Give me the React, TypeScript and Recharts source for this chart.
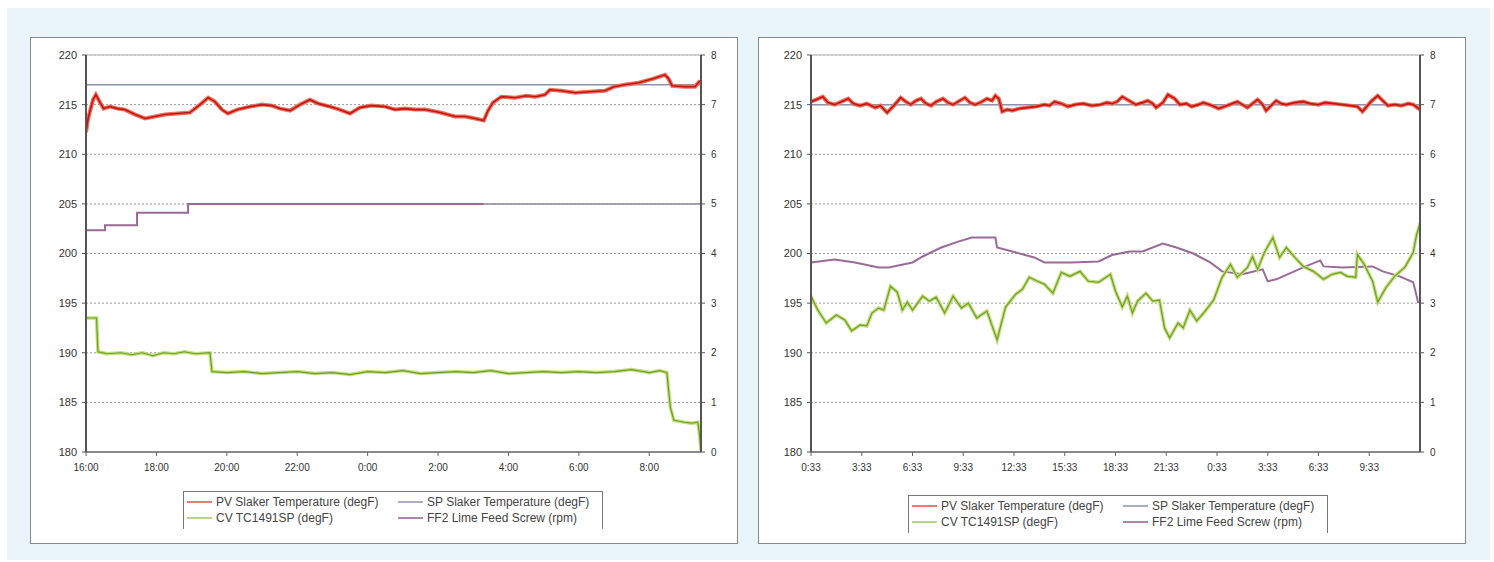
import { CartesianGrid, Line, LineChart, ReferenceLine, XAxis, YAxis } from "recharts";

type Pt = [number, number]; // [hours from start, value]

// ---- left panel: 16:00 -> ~9:28 next morning ----
const LEFT_SPAN = 17.47;
const LEFT_TICKS = [0, 2, 4, 6, 8, 10, 12, 14, 16];

const LEFT_PV: Pt[] = [
  [0, 212.2], [0.06, 213.6], [0.2, 215.5], [0.28, 216.0], [0.4, 215.2], [0.5, 214.6], [0.68, 214.8],
  [0.9, 214.6], [1.1, 214.5], [1.4, 214.0], [1.68, 213.6], [1.96, 213.8], [2.24, 214.0], [2.6, 214.1],
  [2.95, 214.2], [3.24, 215.0], [3.47, 215.7], [3.66, 215.3], [3.86, 214.5], [4.03, 214.1], [4.3, 214.5],
  [4.66, 214.8], [5.0, 215.0], [5.28, 214.9], [5.51, 214.6], [5.8, 214.4], [6.08, 215.0], [6.36, 215.5],
  [6.6, 215.1], [6.93, 214.8], [7.2, 214.5], [7.5, 214.1], [7.78, 214.7], [8.1, 214.9], [8.5, 214.8],
  [8.78, 214.5], [9.06, 214.6], [9.35, 214.5], [9.63, 214.5], [10.06, 214.2], [10.48, 213.8], [10.77, 213.8],
  [11.05, 213.6], [11.3, 213.4], [11.42, 214.4], [11.56, 215.2], [11.8, 215.8], [12.19, 215.7], [12.5, 215.9],
  [12.76, 215.8], [13.04, 216.0], [13.18, 216.5], [13.5, 216.4], [13.9, 216.2], [14.3, 216.3], [14.74, 216.4],
  [15.0, 216.8], [15.3, 217.0], [15.7, 217.2], [16.1, 217.6], [16.45, 218.0], [16.55, 217.6], [16.65, 216.9],
  [17.0, 216.8], [17.3, 216.8], [17.44, 217.4],
];
const LEFT_SP: Pt[] = [[0, 217], [LEFT_SPAN, 217]];
const LEFT_CV: Pt[] = [
  [0, 193.5], [0.3, 193.5], [0.34, 190.1], [0.6, 189.9], [1.0, 190.0], [1.3, 189.8], [1.6, 190.0],
  [1.9, 189.7], [2.2, 190.0], [2.5, 189.9], [2.8, 190.1], [3.1, 189.9], [3.52, 190.0], [3.58, 188.1],
  [4.0, 188.0], [4.5, 188.1], [5.0, 187.9], [5.5, 188.0], [6.0, 188.1], [6.5, 187.9], [7.0, 188.0],
  [7.5, 187.8], [8.0, 188.1], [8.5, 188.0], [9.0, 188.2], [9.5, 187.9], [10.0, 188.0], [10.5, 188.1],
  [11.0, 188.0], [11.5, 188.2], [12.0, 187.9], [12.5, 188.0], [13.0, 188.1], [13.5, 188.0], [14.0, 188.1],
  [14.5, 188.0], [15.0, 188.1], [15.5, 188.3], [16.0, 188.0], [16.3, 188.2], [16.5, 188.0], [16.6, 184.5],
  [16.7, 183.2], [17.0, 183.0], [17.2, 182.9], [17.38, 183.0], [17.42, 182.0], [17.47, 180.2],
];
// rpm, right axis
const LEFT_FF2: Pt[] = [[0, 4.47], [0.54, 4.57], [1.45, 4.82], [2.9, 5.0], [11.3, 5.0]];
const LEFT_FF2_TAIL: Pt[] = [[11.3, 5.0], [LEFT_SPAN, 5.0]];

// ---- right panel: 0:33 -> 12:33 next day ----
const RIGHT_SPAN = 36;
const RIGHT_TICKS = [0, 3, 6, 9, 12, 15, 18, 21, 24, 27, 30, 33];

const RIGHT_PV: Pt[] = [
  [0, 215.3], [0.3, 215.5], [0.7, 215.8], [1.0, 215.2], [1.4, 215.0], [1.8, 215.3], [2.2, 215.6],
  [2.5, 215.1], [2.9, 214.9], [3.3, 215.1], [3.8, 214.7], [4.1, 214.9], [4.5, 214.2], [4.9, 214.9],
  [5.3, 215.7], [5.6, 215.3], [5.9, 215.0], [6.2, 215.4], [6.5, 215.6], [6.8, 215.1], [7.1, 214.9],
  [7.4, 215.3], [7.8, 215.6], [8.1, 215.2], [8.4, 215.0], [8.7, 215.3], [9.1, 215.7], [9.4, 215.2],
  [9.7, 215.0], [10.0, 215.2], [10.4, 215.6], [10.7, 215.4], [10.9, 215.9], [11.1, 215.6], [11.3, 214.3],
  [11.6, 214.5], [11.9, 214.4], [12.3, 214.6], [12.8, 214.7], [13.3, 214.8], [13.8, 215.0], [14.1, 214.9],
  [14.4, 215.3], [14.8, 215.1], [15.2, 214.8], [15.6, 215.0], [16.1, 215.1], [16.6, 214.9], [17.1, 215.0],
  [17.5, 215.2], [17.8, 215.1], [18.1, 215.3], [18.4, 215.8], [18.8, 215.4], [19.2, 215.0], [19.6, 215.2],
  [19.9, 215.4], [20.2, 215.1], [20.4, 214.7], [20.8, 215.2], [21.1, 216.0], [21.5, 215.6], [21.8, 215.0],
  [22.2, 215.1], [22.5, 214.8], [22.9, 215.0], [23.2, 215.2], [23.7, 214.9], [24.1, 214.6], [24.6, 214.9],
  [25.2, 215.3], [25.5, 215.0], [25.8, 214.7], [26.1, 215.1], [26.4, 215.5], [26.7, 215.0], [26.9, 214.4],
  [27.2, 214.9], [27.5, 215.4], [27.8, 215.1], [28.1, 215.0], [28.6, 215.2], [29.1, 215.3], [29.5, 215.1],
  [30.0, 215.0], [30.4, 215.2], [30.9, 215.1], [31.4, 215.0], [31.9, 214.9], [32.3, 214.8], [32.6, 214.3],
  [33.1, 215.3], [33.5, 215.9], [33.8, 215.4], [34.1, 214.9], [34.5, 215.0], [34.9, 214.9], [35.3, 215.1],
  [35.6, 215.0], [36.0, 214.5],
];
const RIGHT_SP: Pt[] = [[0, 215], [RIGHT_SPAN, 215]];
const RIGHT_CV: Pt[] = [
  [0, 195.7], [0.4, 194.3], [0.9, 193.0], [1.5, 193.8], [2.0, 193.3], [2.4, 192.2], [2.9, 192.8],
  [3.3, 192.7], [3.6, 194.0], [4.0, 194.5], [4.3, 194.3], [4.7, 196.7], [5.1, 196.1], [5.4, 194.3],
  [5.7, 195.1], [6.0, 194.3], [6.6, 195.7], [7.0, 195.2], [7.4, 195.6], [7.9, 194.0], [8.4, 195.7],
  [8.9, 194.5], [9.3, 195.0], [9.8, 193.5], [10.4, 194.2], [11.0, 191.3], [11.5, 194.6], [12.1, 195.9],
  [12.5, 196.4], [12.9, 197.6], [13.4, 197.2], [13.8, 196.9], [14.3, 196.0], [14.8, 198.1], [15.3, 197.7],
  [15.9, 198.2], [16.4, 197.2], [17.0, 197.1], [17.7, 197.9], [18.0, 196.2], [18.4, 194.6], [18.7, 195.7],
  [19.0, 194.0], [19.3, 195.2], [19.8, 196.0], [20.2, 195.2], [20.6, 195.3], [20.9, 192.5], [21.2, 191.5],
  [21.7, 193.0], [22.0, 192.5], [22.4, 194.3], [22.8, 193.2], [23.3, 194.2], [23.8, 195.3], [24.3, 197.6],
  [24.8, 198.9], [25.2, 197.6], [25.8, 198.6], [26.1, 199.7], [26.4, 198.4], [26.8, 200.1], [27.3, 201.6],
  [27.7, 199.6], [28.1, 200.6], [28.6, 199.6], [29.1, 198.7], [29.7, 198.2], [30.3, 197.4], [30.8, 197.9],
  [31.3, 198.1], [31.7, 197.7], [32.2, 197.6], [32.3, 199.9], [32.7, 198.9], [33.2, 197.2], [33.5, 195.1],
  [34.0, 196.6], [34.5, 197.7], [35.1, 198.6], [35.6, 200.1], [35.8, 201.9], [36.0, 203.0],
];
const RIGHT_FF2: Pt[] = [
  [0, 3.82], [1.4, 3.88], [2.6, 3.82], [4.0, 3.72], [4.6, 3.72], [6.0, 3.82], [6.6, 3.94], [7.7, 4.12],
  [8.7, 4.24], [9.5, 4.32], [10.9, 4.32], [11.0, 4.12], [11.9, 4.04], [13.2, 3.92], [13.8, 3.82],
  [15.4, 3.82], [17.0, 3.84], [17.8, 3.97], [18.85, 4.04], [19.6, 4.04], [20.8, 4.2], [21.6, 4.12],
  [22.6, 4.0], [23.6, 3.82], [24.3, 3.64], [25.5, 3.58], [26.7, 3.68], [27.0, 3.44], [27.5, 3.48],
  [29.1, 3.72], [30.1, 3.86], [30.3, 3.74], [31.4, 3.72], [33.2, 3.74], [33.8, 3.64], [34.8, 3.54],
  [35.6, 3.42], [35.9, 3.0],
];

const TEMP_TICKS = [180, 185, 190, 195, 200, 205, 210, 215, 220];
const RPM_TICKS = [0, 1, 2, 3, 4, 5, 6, 7, 8];

const LEGEND = [
  { name: "PV Slaker Temperature (degF)", color: "#e77d78" },
  { name: "SP Slaker Temperature (degF)", color: "#a9aec0" },
  { name: "CV TC1491SP (degF)", color: "#b7d488" },
  { name: "FF2 Lime Feed Screw (rpm)", color: "#a88aa8" },
];

const FONT = '"Liberation Sans", Arial, sans-serif';

const rows = (pts: Pt[]) => pts.map(([t, v]) => ({ t, v }));

const clock = (startMin: number) => (t: number) => {
  const total = startMin + Math.round(t * 60);
  const h = Math.floor(total / 60) % 24;
  const m = total % 60;
  return `${h}:${String(m).padStart(2, "0")}`;
};

function Legend({ left, top }: { left: number; top: number }) {
  return (
    <div
      style={{
        position: "absolute",
        left,
        top,
        width: 418,
        height: 37,
        borderTop: "1px solid #777",
        borderLeft: "1px solid #777",
        borderRight: "1px solid #777",
        fontFamily: FONT,
        fontSize: 12,
        color: "#444",
      }}
    >
      {LEGEND.map((item, i) => (
        <div
          key={item.name}
          style={{
            position: "absolute",
            left: i % 2 === 0 ? 3 : 214,
            top: i < 2 ? 3 : 19,
            display: "flex",
            alignItems: "center",
            whiteSpace: "nowrap",
          }}
        >
          <span style={{ display: "inline-block", width: 25, height: 2, background: item.color, marginRight: 4 }} />
          {item.name}
        </div>
      ))}
    </div>
  );
}

function Panel({
  x,
  plotLeft,
  rightPad,
  span,
  ticks,
  startMin,
  pv,
  sp,
  cv,
  ff2,
  ff2Tail,
  legendLeft,
  legendTop,
}: {
  x: number;
  plotLeft: number;
  rightPad: number;
  span: number;
  ticks: number[];
  startMin: number;
  pv: Pt[];
  sp: Pt[];
  cv: Pt[];
  ff2: Pt[];
  ff2Tail?: Pt[];
  legendLeft: number;
  legendTop: number;
}) {
  const tickStyle = { fontSize: 10, fill: "#333", fontFamily: FONT };
  return (
    <div
      style={{
        position: "absolute",
        left: x,
        top: 37,
        width: 708,
        height: 507,
        boxSizing: "border-box",
        border: "1px solid #8a8a8a",
        background: "#fff",
      }}
    >
      <LineChart
        width={706}
        height={442}
        margin={{ top: 17, right: rightPad, bottom: 0, left: 0 }}
        style={{ position: "absolute", left: 0, top: 0, fontFamily: FONT }}
      >
        <CartesianGrid yAxisId="f" vertical={false} stroke="#9a9a9a" strokeDasharray="2 2" />
        <XAxis
          type="number"
          dataKey="t"
          domain={[0, span]}
          ticks={ticks}
          tickFormatter={clock(startMin)}
          allowDataOverflow
          height={28}
          tickSize={4}
          tickMargin={8}
          tick={tickStyle}
          axisLine={{ stroke: "#8a8a8a", strokeWidth: 2 }}
          tickLine={{ stroke: "#666" }}
        />
        <YAxis
          yAxisId="f"
          domain={[180, 220]}
          ticks={TEMP_TICKS}
          allowDataOverflow
          width={plotLeft}
          tickSize={4}
          tickMargin={5}
          tick={{ ...tickStyle, fontSize: 11 }}
          axisLine={{ stroke: "#555", strokeWidth: 2 }}
          tickLine={{ stroke: "#555" }}
        />
        <YAxis
          yAxisId="rpm"
          orientation="right"
          domain={[0, 8]}
          ticks={RPM_TICKS}
          allowDataOverflow
          width={30}
          tickSize={4}
          tickMargin={6}
          tick={tickStyle}
          axisLine={{ stroke: "#555", strokeWidth: 2 }}
          tickLine={{ stroke: "#555" }}
        />
        <ReferenceLine yAxisId="f" y={220} stroke="#c8c8c8" strokeWidth={1.5} />
        <Line yAxisId="f" data={rows(sp)} dataKey="v" stroke="#8b93ab" strokeWidth={1.5} dot={false} activeDot={false} isAnimationActive={false} />
        {ff2Tail && (
          <Line yAxisId="rpm" data={rows(ff2Tail)} dataKey="v" stroke="#8d8d95" strokeWidth={1.5} dot={false} activeDot={false} isAnimationActive={false} />
        )}
        <Line yAxisId="rpm" data={rows(ff2)} dataKey="v" type={ff2Tail ? "stepAfter" : "linear"} stroke="#9a6a98" strokeWidth={2} dot={false} activeDot={false} isAnimationActive={false} />
        <Line yAxisId="f" data={rows(cv)} dataKey="v" stroke="#c2de7a" strokeWidth={3.5} dot={false} activeDot={false} isAnimationActive={false} />
        <Line yAxisId="f" data={rows(cv)} dataKey="v" stroke="#6f9f2a" strokeWidth={1.2} dot={false} activeDot={false} isAnimationActive={false} />
        <Line yAxisId="f" data={rows(pv)} dataKey="v" stroke="#ef6f5e" strokeWidth={4} dot={false} activeDot={false} isAnimationActive={false} />
        <Line yAxisId="f" data={rows(pv)} dataKey="v" stroke="#c4160f" strokeWidth={1.6} dot={false} activeDot={false} isAnimationActive={false} />
      </LineChart>
      <Legend left={legendLeft} top={legendTop} />
    </div>
  );
}

export default function App() {
  return (
    <div style={{ position: "absolute", left: 0, top: 0, width: 1494, height: 562, background: "#fff" }}>
      <div style={{ position: "absolute", left: 7, top: 8, width: 1483, height: 552, background: "#eaf4fb" }} />
      <Panel
        x={30}
        plotLeft={55}
        rightPad={6}
        span={LEFT_SPAN}
        ticks={LEFT_TICKS}
        startMin={16 * 60}
        pv={LEFT_PV}
        sp={LEFT_SP}
        cv={LEFT_CV}
        ff2={LEFT_FF2}
        ff2Tail={LEFT_FF2_TAIL}
        legendLeft={152}
        legendTop={453}
      />
      <Panel
        x={758}
        plotLeft={52}
        rightPad={15}
        span={RIGHT_SPAN}
        ticks={RIGHT_TICKS}
        startMin={33}
        pv={RIGHT_PV}
        sp={RIGHT_SP}
        cv={RIGHT_CV}
        ff2={RIGHT_FF2}
        legendLeft={149}
        legendTop={457}
      />
    </div>
  );
}
